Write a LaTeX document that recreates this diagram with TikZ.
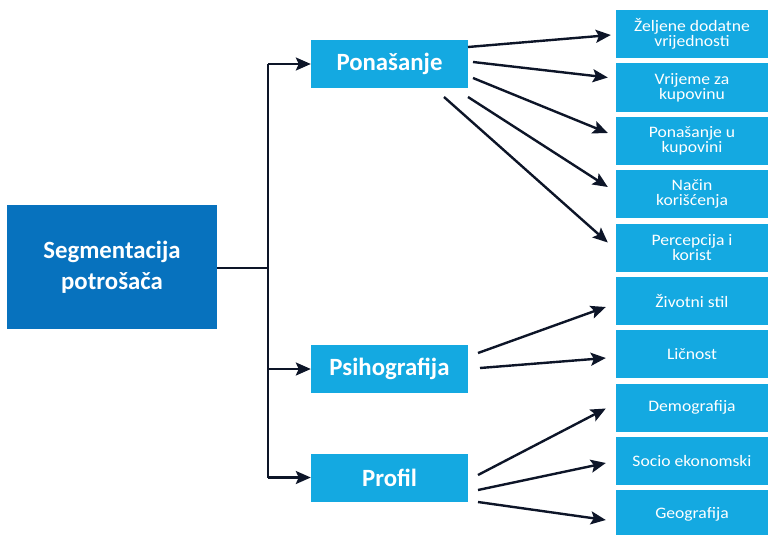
\documentclass[tikz,border=0pt]{standalone}
\usepackage{fontspec}
\setmainfont{Carlito}
\newfontfamily\leaffont{Carlito}[FakeStretch=1.1]
\usetikzlibrary{arrows.meta,calc}
\definecolor{darkbl}{HTML}{0772BE}
\definecolor{lightbl}{HTML}{14A9E1}
\definecolor{arr}{HTML}{0D1528}
\tikzset{
  mainbox/.style={fill=darkbl,text=white,font=\fontsize{24.8}{31}\selectfont\bfseries,align=center,minimum width=210pt,minimum height=124pt,inner sep=0pt},
  midbox/.style={fill=lightbl,text=white,font=\fontsize{24.8}{28}\selectfont\bfseries,align=center,minimum width=157pt,minimum height=48pt,inner sep=0pt},
  leafbox/.style={fill=lightbl,text=white,font=\leaffont\fontsize{16}{14.7}\selectfont,align=center,minimum width=152pt,minimum height=48pt,inner sep=0pt},
  conn/.style={draw=arr,line width=2.4pt},
  arrw/.style={conn,-{Stealth[length=15pt,width=13pt,inset=3pt]}},
}
\begin{document}
\begin{tikzpicture}[x=1pt,y=-1pt]
\useasboundingbox (0,0) rectangle (768,535);
\fill[white] (0,0) rectangle (768,535);
\node[mainbox] (seg) at (112,267) {Segmentacija\\potrošača};
\node[midbox] (pon) at (389.5,64) {Ponašanje};
\node[midbox] (psi) at (389.5,369) {Psihografija};
\node[midbox] (pro) at (389.5,477.5) {Profil};
\node[leafbox] (r1) at (692,34) {Željene dodatne\\vrijednosti};
\node[leafbox] (r2) at (692,87.5) {Vrijeme za\\kupovinu};
\node[leafbox] (r3) at (692,141) {Ponašanje u\\kupovini};
\node[leafbox] (r4) at (692,194) {Način\\korišćenja};
\node[leafbox] (r5) at (692,247.5) {Percepcija i\\korist};
\node[leafbox] (r6) at (692,301) {Životni stil};
\node[leafbox] (r7) at (692,354) {Ličnost};
\node[leafbox] (r8) at (692,407.5) {Demografija};
\node[leafbox] (r9) at (692,461) {Socio ekonomski};
\node[leafbox] (r10) at (692,514) {Geografija};
% trunk
\coordinate (jn) at (268,268);
\coordinate (top) at (268,64);
\coordinate (bot) at (268,477.5);
\draw[conn] (seg.east |- jn) -- (jn);
\draw[conn] (top) -- (bot);
\draw[arrw] (top) -- (pon.west);
\draw[arrw] (268,369) -- (psi.west);
\draw[arrw] (bot) -- (pro.west);
% Ponasanje arrows
\coordinate (a1) at (468,47);
\coordinate (a2) at (473,62);
\coordinate (a3) at (473,78);
\coordinate (a4) at (468,97);
\coordinate (a5) at (444,97);
\draw[arrw] (a1) -- ($(r1.west)+(-5,1)$);
\draw[arrw] (a2) -- ($(r2.west)+(-8,-10)$);
\draw[arrw] (a3) -- ($(r3.west)+(-8,-8)$);
\draw[arrw] (a4) -- ($(r4.west)+(-8,-7)$);
\draw[arrw] (a5) -- ($(r5.west)+(-8,-5)$);
% Psihografija arrows
\coordinate (b1) at (478,353);
\coordinate (b2) at (480,368);
\draw[arrw] (b1) -- ($(r6.west)+(-10,6)$);
\draw[arrw] (b2) -- ($(r7.west)+(-10,4)$);
% Profil arrows
\coordinate (c1) at (478,475);
\coordinate (c2) at (478,490);
\coordinate (c3) at (478,502);
\draw[arrw] (c1) -- ($(r8.west)+(-10,1)$);
\draw[arrw] (c2) -- ($(r9.west)+(-10,2)$);
\draw[arrw] (c3) -- ($(r10.west)+(-10,6)$);
\end{tikzpicture}
\end{document}
